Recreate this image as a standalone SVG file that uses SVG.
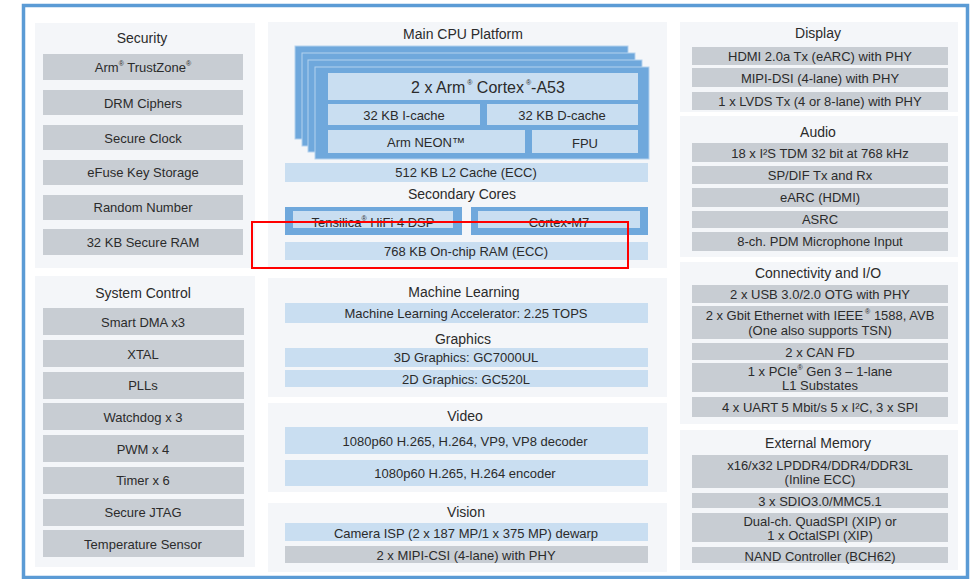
<svg xmlns="http://www.w3.org/2000/svg" width="977" height="579" viewBox="0 0 977 579">
<style>
.panel{fill:#f4f6f9}
.g{fill:#c8cdd3}
.lb{fill:#c9def1}
.layer{fill:#6fa8dc;stroke:#b4d1ee;stroke-width:1}
.t{font-family:"Liberation Sans",Arial,sans-serif;font-size:13px;fill:#2b2b2b;text-anchor:middle;dominant-baseline:central}
.h{font-family:"Liberation Sans",Arial,sans-serif;font-size:14px;fill:#2b2b2b;text-anchor:middle;dominant-baseline:central}
.big{font-size:16px}
.sup{font-size:7px}
</style>
<rect x="0" y="0" width="977" height="579" fill="#ffffff"/>
<rect x="23.5" y="5.5" width="944" height="572" fill="#ffffff" stroke="#5b9bd5" stroke-width="3.5"/>

<g id="security">
<rect class="panel" x="35" y="23" width="220" height="245"/>
<text class="h" x="142" y="38">Security</text>
<rect class="g" x="43" y="54" width="200" height="26"/><text class="t" x="143" y="67">Arm<tspan class="sup" dy="-4">®</tspan><tspan dy="4"> TrustZone</tspan><tspan class="sup" dy="-4">®</tspan></text>
<rect class="g" x="43" y="90" width="200" height="25"/><text class="t" x="143" y="103">DRM Ciphers</text>
<rect class="g" x="43" y="125" width="200" height="25"/><text class="t" x="143" y="138">Secure Clock</text>
<rect class="g" x="43" y="160" width="200" height="25"/><text class="t" x="143" y="172">eFuse Key Storage</text>
<rect class="g" x="43" y="195" width="200" height="25"/><text class="t" x="143" y="207">Random Number</text>
<rect class="g" x="43" y="229" width="200" height="26"/><text class="t" x="143" y="242">32 KB Secure RAM</text>
</g>

<g id="system-control">
<rect class="panel" x="35" y="276" width="220" height="291"/>
<text class="h" x="143" y="293">System Control</text>
<rect class="g" x="43" y="308" width="201" height="27"/><text class="t" x="143" y="322">Smart DMA x3</text>
<rect class="g" x="43" y="340" width="201" height="27"/><text class="t" x="143" y="354">XTAL</text>
<rect class="g" x="43" y="372" width="201" height="27"/><text class="t" x="143" y="385">PLLs</text>
<rect class="g" x="43" y="403" width="201" height="27"/><text class="t" x="143" y="417">Watchdog x 3</text>
<rect class="g" x="43" y="435" width="201" height="27"/><text class="t" x="143" y="449">PWM x 4</text>
<rect class="g" x="43" y="467" width="201" height="27"/><text class="t" x="143" y="480">Timer x 6</text>
<rect class="g" x="43" y="499" width="201" height="27"/><text class="t" x="143" y="512">Secure JTAG</text>
<rect class="g" x="43" y="530" width="201" height="27"/><text class="t" x="143" y="544">Temperature Sensor</text>
</g>

<g id="main-cpu">
<rect class="panel" x="268" y="22" width="399" height="246"/>
<text class="h" x="463" y="34">Main CPU Platform</text>
<rect class="layer" x="295" y="46" width="333" height="93"/>
<rect class="layer" x="302" y="53" width="333" height="93"/>
<rect class="layer" x="308" y="60" width="334" height="92"/>
<rect class="layer" x="315" y="67" width="334" height="92"/>
<rect class="lb" x="328" y="73" width="310" height="27"/><text class="h big" x="488" y="87">2 x Arm<tspan class="sup" dy="-5"> ®</tspan><tspan dy="5"> Cortex</tspan><tspan class="sup" dy="-5"> ®</tspan><tspan dy="5">-A53</tspan></text>
<rect class="lb" x="328" y="104" width="152" height="21"/><text class="t" x="404" y="115">32 KB I-cache</text>
<rect class="lb" x="487" y="104" width="151" height="21"/><text class="t" x="562" y="115">32 KB D-cache</text>
<rect class="lb" x="328" y="130" width="197" height="23"/><text class="t" x="426" y="142">Arm NEON™</text>
<rect class="lb" x="532" y="130" width="106" height="23"/><text class="t" x="585" y="143">FPU</text>
<rect class="lb" x="285" y="163" width="363" height="19"/><text class="t" x="466" y="172">512 KB L2 Cache (ECC)</text>
<text class="h" x="462" y="194">Secondary Cores</text>
<rect fill="#6fa8dc" x="285" y="207" width="177" height="28"/>
<rect class="lb" x="293" y="211" width="160" height="17"/>
<text class="t" x="373" y="222">Tensilica<tspan class="sup" dy="-4">®</tspan><tspan dy="4"> HiFi 4 DSP</tspan></text>
<rect fill="#6fa8dc" x="471" y="207" width="177" height="28"/>
<rect class="lb" x="478" y="211" width="162" height="17"/>
<text class="t" x="559" y="222">Cortex-M7</text>
<rect class="lb" x="285" y="242" width="363" height="18"/><text class="t" x="466" y="251">768 KB On-chip RAM (ECC)</text>
</g>

<g id="ml-graphics">
<rect class="panel" x="268" y="278" width="399" height="119"/>
<text class="h" x="464" y="292">Machine Learning</text>
<rect class="lb" x="285" y="303" width="363" height="20"/><text class="t" x="466" y="313">Machine Learning Accelerator: 2.25 TOPS</text>
<text class="h" x="463" y="339">Graphics</text>
<rect class="lb" x="285" y="348" width="363" height="19"/><text class="t" x="466" y="357">3D Graphics: GC7000UL</text>
<rect class="lb" x="285" y="370" width="363" height="17"/><text class="t" x="466" y="379">2D Graphics: GC520L</text>
</g>

<g id="video">
<rect class="panel" x="268" y="403" width="399" height="89"/>
<text class="h" x="465" y="416">Video</text>
<rect class="lb" x="285" y="427" width="363" height="27"/><text class="t" x="465" y="441">1080p60 H.265, H.264, VP9, VP8 decoder</text>
<rect class="lb" x="285" y="460" width="363" height="26"/><text class="t" x="465" y="473">1080p60 H.265, H.264 encoder</text>
</g>

<g id="vision">
<rect class="panel" x="268" y="503" width="399" height="69"/>
<text class="h" x="466" y="512">Vision</text>
<rect class="lb" x="285" y="523" width="363" height="18"/><text class="t" x="466" y="533">Camera ISP (2 x 187 MP/1 x 375 MP) dewarp</text>
<rect class="g" x="285" y="546" width="363" height="17"/><text class="t" x="466" y="555">2 x MIPI-CSI (4-lane) with PHY</text>
</g>

<g id="display">
<rect class="panel" x="680" y="22" width="278" height="90"/>
<text class="h" x="818" y="33">Display</text>
<rect class="g" x="692" y="47" width="256" height="18"/><text class="t" x="820" y="56">HDMI 2.0a Tx (eARC) with PHY</text>
<rect class="g" x="692" y="68" width="256" height="19"/><text class="t" x="820" y="78">MIPI-DSI (4-lane) with PHY</text>
<rect class="g" x="692" y="92" width="256" height="18"/><text class="t" x="820" y="101">1 x LVDS Tx (4 or 8-lane) with PHY</text>
</g>

<g id="audio">
<rect class="panel" x="680" y="116" width="278" height="141"/>
<text class="h" x="818" y="132">Audio</text>
<rect class="g" x="692" y="143" width="256" height="19"/><text class="t" x="820" y="153">18 x I²S TDM 32 bit at 768 kHz</text>
<rect class="g" x="692" y="166" width="256" height="18"/><text class="t" x="820" y="175">SP/DIF Tx and Rx</text>
<rect class="g" x="692" y="188" width="256" height="19"/><text class="t" x="820" y="197">eARC (HDMI)</text>
<rect class="g" x="692" y="211" width="256" height="17"/><text class="t" x="820" y="219">ASRC</text>
<rect class="g" x="692" y="232" width="256" height="19"/><text class="t" x="820" y="241">8-ch. PDM Microphone Input</text>
</g>

<g id="connectivity">
<rect class="panel" x="680" y="262" width="278" height="162"/>
<text class="h" x="818" y="273">Connectivity and I/O</text>
<rect class="g" x="692" y="285" width="256" height="18"/><text class="t" x="820" y="294">2 x USB 3.0/2.0 OTG with PHY</text>
<rect class="g" x="692" y="306" width="256" height="33"/><text class="t" x="820" y="315">2 x Gbit Ethernet with IEEE<tspan class="sup" dy="-4"> ®</tspan><tspan dy="4"> 1588, AVB</tspan></text><text class="t" x="820" y="330">(One also supports TSN)</text>
<rect class="g" x="692" y="343" width="256" height="17"/><text class="t" x="820" y="352">2 x CAN FD</text>
<rect class="g" x="692" y="363" width="256" height="29"/><text class="t" x="820" y="371">1 x PCIe<tspan class="sup" dy="-4">®</tspan><tspan dy="4"> Gen 3 – 1-lane</tspan></text><text class="t" x="820" y="385">L1 Substates</text>
<rect class="g" x="692" y="397" width="256" height="20"/><text class="t" x="820" y="407">4 x UART 5 Mbit/s 5 x I²C, 3 x SPI</text>
</g>

<g id="external-memory">
<rect class="panel" x="680" y="430" width="278" height="140"/>
<text class="h" x="818" y="443">External Memory</text>
<rect class="g" x="692" y="455" width="256" height="33"/><text class="t" x="820" y="465">x16/x32 LPDDR4/DDR4/DDR3L</text><text class="t" x="820" y="479">(Inline ECC)</text>
<rect class="g" x="692" y="493" width="256" height="15"/><text class="t" x="820" y="501">3 x SDIO3.0/MMC5.1</text>
<rect class="g" x="692" y="513" width="256" height="29"/><text class="t" x="820" y="521">Dual-ch. QuadSPI (XIP) or</text><text class="t" x="820" y="535">1 x OctalSPI (XIP)</text>
<rect class="g" x="692" y="547" width="256" height="16"/><text class="t" x="820" y="556">NAND Controller (BCH62)</text>
</g>

<g id="highlight">
<rect x="252" y="222" width="376" height="46" fill="none" stroke="#ff0000" stroke-width="2"/>
</g>
<g id="connectors"/>
</svg>
